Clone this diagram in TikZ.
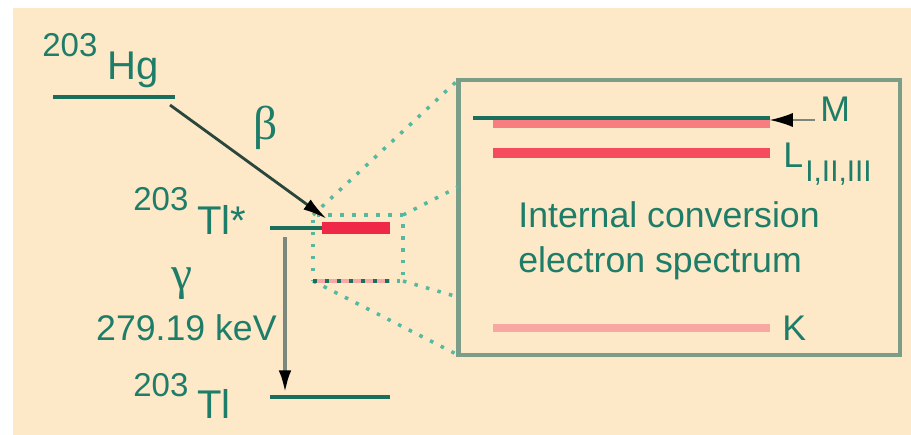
\documentclass[tikz,border=0pt]{standalone}
\usepackage{fontspec}
\setmainfont{Liberation Sans}
\newfontfamily\greekfont{Liberation Serif}
\usetikzlibrary{arrows.meta, positioning, calc}

\definecolor{paper}{RGB}{253,232,199}
\definecolor{tealtxt}{RGB}{30,125,105}
\definecolor{tealline}{RGB}{25,110,92}
\definecolor{dotteal}{RGB}{85,185,160}
\definecolor{boxgrey}{RGB}{122,158,136}
\definecolor{barred}{RGB}{238,40,70}
\definecolor{lred}{RGB}{245,75,95}
\definecolor{mred}{RGB}{248,125,128}
\definecolor{kred}{RGB}{248,168,162}
\definecolor{arrowgrey}{RGB}{122,136,126}
\definecolor{betadark}{RGB}{40,70,60}

\begin{document}
\begin{tikzpicture}[x=0.02cm, y=-0.02cm,
			level/.style={draw=tealline, line width=2.2pt},
			zoomline/.style={draw=dotteal, line width=2pt, dash pattern=on 2pt off 4.8pt},
			arrow/.style={-{Latex[length=14pt, width=7pt, color=black]}},
			mass/.style={font=\fontsize{18.8}{20}\selectfont, text=tealtxt, inner sep=0pt, anchor=base west},
			nuclide/.style={font=\fontsize{22.8}{24}\selectfont, text=tealtxt, inner sep=0pt, anchor=base west},
			lbl/.style={font=\fontsize{20.3}{25}\selectfont, text=tealtxt, inner sep=0pt},
			greek/.style={font=\greekfont\fontsize{27}{30}\selectfont, text=tealtxt, inner sep=0pt},
			shellline/.style={line width=#1, line cap=butt}
		]
		\useasboundingbox (0,0) rectangle (911,435);
		\fill[paper] (13,8) rectangle (911,435);
		
		% Spectrum box and zoomed region
		\node[draw=boxgrey, line width=2.8pt, minimum width=8.84cm, minimum height=5.5cm, inner sep=0pt, outer sep=0pt] (spec) at (679,217.5) {};
		\node[zoomline, minimum width=1.8cm, minimum height=1.32cm, inner sep=0pt, outer sep=0pt] (zoomrect) at (358,248) {};
		\coordinate (fanB) at (458,187);
		\coordinate (fanC) at (458,297);
		\draw[zoomline] (zoomrect.north west) -- (spec.north west);
		\draw[zoomline] (zoomrect.north east) -- (fanB);
		\draw[zoomline] (zoomrect.south east) -- (fanC);
		\draw[zoomline] (zoomrect.south west) -- (spec.south west);
		
		% Levels
		\coordinate (hgL) at (53,97);
		\coordinate (hgR) at (175,97);
		\coordinate (tsL) at (270,228);
		\coordinate (tsR) at (390,228);
		\coordinate (tsBar) at (322,228);
		\coordinate (tlL) at (270,397);
		\coordinate (tlR) at (390,397);
		\coordinate (icL) at (313,281);
		\coordinate (icR) at (390,281);
		\draw[level] (hgL) -- (hgR);
		\draw[level] (tsL) -- (tsR);
		\draw[barred, line width=6.5pt] (tsBar) -- (tsR);
		\draw[level] (tlL) -- (tlR);
		\draw[kred, line width=2.5pt] (icL) -- (icR);
		\draw[tealline, line width=2.5pt, dash pattern=on 2.5pt off 4.3pt] (icL) -- (icR);
		
		% Labels
		\node[mass] (hgA) at (42,57) {203};
		\node[nuclide] (hgS) at (107,80) {Hg};
		\node[mass] (tsA) at (133,211) {203};
		\node[nuclide] (tsS) at (197,235) {Tl*};
		\node[mass] (tlA) at (133,396) {203};
		\node[nuclide] (tlS) at (197,418) {Tl};
		
		% Decays
		\coordinate (bStart) at (170,105);
		\coordinate (bEnd) at (327,219);
		\draw[arrow, draw=betadark, line width=1.6pt] (bStart) -- (bEnd);
		\node[greek] (betalbl) at (266,128) {β};
		\coordinate (gStart) at (285,237);
		\coordinate (gEnd) at (285,395);
		\draw[arrow, draw=arrowgrey, line width=2.6pt] (gStart) -- (gEnd);
		\node[greek] (gamlbl) at (182,284) {γ};
		\node[lbl, anchor=base east] (egam) at (277,340) {279.19 keV};
		
		% Shells
		\coordinate (mL) at (473,118);
		\coordinate (mR) at (770,118);
		\coordinate (mtip) at (770,120);
		\draw[mred, shellline=4pt] (493,124) -- (mR |- 0,124);
		\draw[tealline, shellline=2pt] (mL) -- (mR);
		\draw[lred, shellline=6pt] (493,153) -- (770,153);
		\draw[kred, shellline=4.5pt] (493,328) -- (770,328);
		\node[lbl, anchor=base west] (mlab) at (820,122) {M};
		\node[lbl, anchor=base west] (llab) at (783,168) {L};
		\node[lbl, anchor=base west, font=\fontsize{17}{18}\selectfont] (lsub) at (805,182) {I,II,III};
		\node[lbl, anchor=base west] (klab) at (782,340) {K};
		\draw[-{Latex[length=13pt, width=8pt, color=black]}, draw=arrowgrey, line width=0.6pt] ([xshift=-3pt]mlab.west |- mtip) -- (mtip);
		\node[lbl, anchor=base west] (ic1) at (518,228) {Internal conversion};
		\node[lbl, anchor=base west] (ic2) at (518,272) {electron spectrum};
		
		\end{tikzpicture}
\end{document}
